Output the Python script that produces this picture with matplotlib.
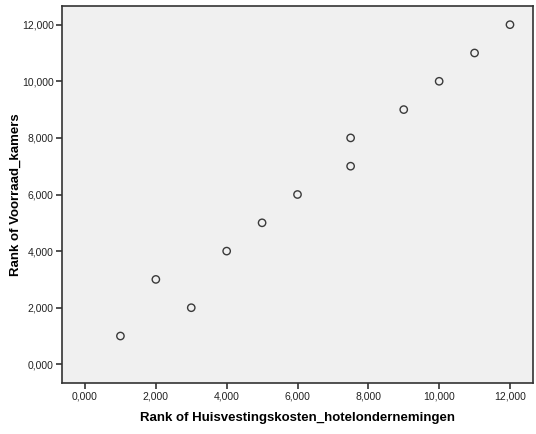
import matplotlib
matplotlib.use("Agg")
import matplotlib.pyplot as plt
from matplotlib.ticker import FuncFormatter

plt.rcParams['font.family'] = ['Liberation Sans', 'DejaVu Sans']

x_rank = [1, 2, 3, 4, 5, 6, 7.5, 7.5, 9, 10, 11, 12]
y_rank = [1, 3, 2, 4, 5, 6, 7, 8, 9, 10, 11, 12]
ticks = [0, 2, 4, 6, 8, 10, 12]
x_label = "Rank of Huisvestingskosten_hotelondernemingen"
y_label = "Rank of Voorraad_kamers"

fig = plt.figure(figsize=(5.36, 4.34), dpi=100)
W, H = 536, 434
left, right, top, bottom = 62, 533, 6, 383
ax = fig.add_axes([left / W, 1 - bottom / H, (right - left) / W, (bottom - top) / H])
ax.set_facecolor('#F0F0F0')

ax.scatter(x_rank, y_rank, s=28, facecolors='none', edgecolors='#3a3a3a', linewidths=1.0, zorder=3)

ax.set_xlim(-0.65, 12.65)
ax.set_ylim(-0.66, 12.66)
ax.set_xticks(ticks)
ax.set_yticks(ticks)
fmt = FuncFormatter(lambda v, p: f"{int(v)},000")
ax.xaxis.set_major_formatter(fmt)
ax.yaxis.set_major_formatter(fmt)

for s in ax.spines.values():
    s.set_color('#333333')
    s.set_linewidth(1.2)
ax.tick_params(axis='both', direction='out', length=4, width=1.2, color='#333333',
               labelsize=7.5, labelcolor='#222222', pad=2)

ax.set_xlabel(x_label, fontsize=9.5, fontweight='bold', labelpad=8)
ax.set_ylabel(y_label, fontsize=9.5, fontweight='bold')
ax.yaxis.set_label_coords((16 - left) / (right - left), 0.5)
ax.yaxis.label.set_verticalalignment('center')

fig.savefig("out.png", dpi=100)
